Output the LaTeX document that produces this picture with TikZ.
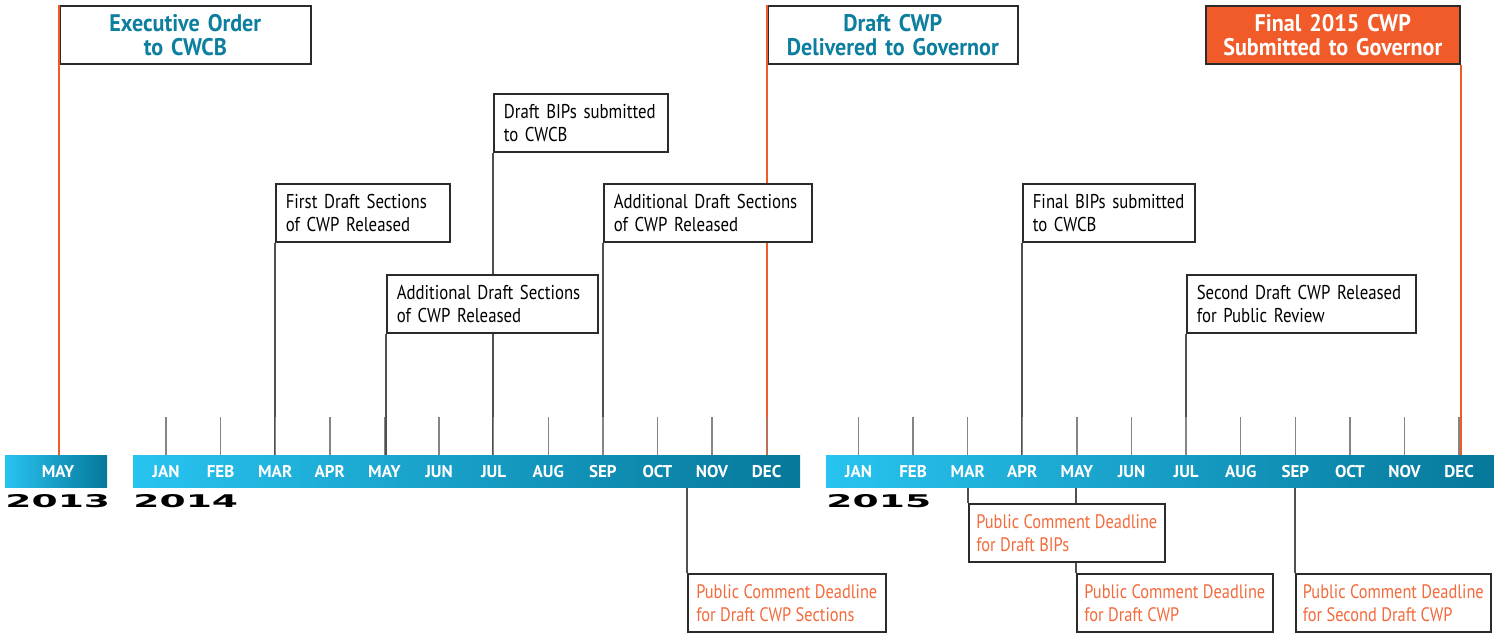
\documentclass[tikz,border=0pt]{standalone}
\usepackage{fontspec}
\setmainfont[FakeStretch=0.84]{PT Sans}
\newfontfamily\titlefont[FakeStretch=0.92]{PT Sans}
\newfontfamily\monthfont{PT Sans}
\newfontfamily\yearfont{DejaVu Sans}
\usetikzlibrary{positioning}
\hyphenpenalty=10000
\exhyphenpenalty=10000
\definecolor{boxline}{HTML}{2B2B2B}
\definecolor{tickgray}{HTML}{858585}
\definecolor{eventgray}{HTML}{505050}
\definecolor{titleteal}{HTML}{0C7E9E}
\definecolor{cwporange}{HTML}{F15A29}
\definecolor{dltext}{HTML}{F26B3D}
\definecolor{barlight}{HTML}{28C3F0}
\definecolor{barmid}{HTML}{00AAD8}
\definecolor{bardark}{HTML}{06789A}
\pgfdeclarelayer{back}
\pgfsetlayers{back,main}
\tikzset{
  event/.style={draw=boxline, line width=1.6pt, fill=white, anchor=north west,
    align=left, text width=#1, inner xsep=10pt, inner ysep=4pt, minimum height=58pt,
    font=\fontsize{20}{23}\selectfont},
  deadline/.style={draw=boxline, line width=1.6pt, fill=white, anchor=north west,
    align=left, minimum width=#1, inner xsep=5pt, inner ysep=4pt, minimum height=58pt,
    text=dltext, font=\fontsize{19.5}{23}\selectfont},
  milestone/.style={draw=boxline, line width=1.6pt, fill=white, anchor=north west,
    align=center, text width=#1, inner xsep=0pt, minimum height=58pt,
    text=titleteal, font=\fontsize{24}{24}\titlefont\bfseries},
  bar/.style={anchor=north west, minimum height=32pt, inner sep=0pt,
    left color=barlight, middle color=barmid, right color=bardark},
  month/.style={text=white, font=\fontsize{17}{18}\monthfont\bfseries, inner sep=0pt},
  year/.style={anchor=north west, inner sep=0pt, xscale=2.15,
    font=\fontsize{17.5}{18}\yearfont\bfseries},
  tick/.style={draw=tickgray, line width=1.4pt},
  eventline/.style={draw=eventgray, line width=1.4pt},
  keyline/.style={draw=cwporange, line width=1.8pt}
}
\begin{document}
\begin{tikzpicture}[x=1pt,y=-1pt]
\useasboundingbox (0,0) rectangle (1494,634);

% timeline bars
\node[bar, minimum width=102pt] (bar13) at (5,455) {};
\node[bar, minimum width=667pt] (bar14) at (133,455) {};
\node[bar, minimum width=668pt] (bar15) at (826,455) {};

\node[month] (m13-5) at (58,471.5) {MAY};
\foreach \m [count=\i] in {JAN,FEB,MAR,APR,MAY,JUN,JUL,AUG,SEP,OCT,NOV,DEC} {
  \node[month] (m14-\i) at ({133+33+54.6*(\i-1)},471.5) {\m};
  \node[month] (m15-\i) at ({826+32.5+54.6*(\i-1)},471.5) {\m};
  \draw[tick] (m14-\i |- bar14.north) -- ++(0,-38);
  \draw[tick] (m15-\i |- bar15.north) -- ++(0,-38);
}

\node[year] (y13) at (5,494) {2013};
\node[year] (y14) at (133,494) {2014};
\node[year] (y15) at (826,494) {2015};

% milestones
\node[milestone=251pt] (exec) at (59,5) {Executive Order\\to CWCB};
\node[milestone=250pt] (draftcwp) at (767,5) {Draft CWP\\Delivered to Governor};
\node[milestone=254pt, fill=cwporange, text=white] (final) at (1205,5) {Final 2015 CWP\\Submitted to Governor};

% events above
\node[event=154pt] (draftbips) at (493,93) {Draft BIPs submitted\\to CWCB};
\node[event=154pt] (firstdraft) at (275,183) {First Draft Sections\\of CWP Released};
\node[event=188pt] (addsec2) at (603,183) {Additional Draft Sections\\of CWP Released};
\node[event=191pt] (addsec1) at (386,274) {Additional Draft Sections\\of CWP Released};
\node[event=152pt] (finalbips) at (1022,183) {Final BIPs submitted\\to CWCB};
\node[event=209pt] (second) at (1186,274) {Second Draft CWP Released\\for Public Review};

% deadlines below
\node[deadline=196pt] (dlbips) at (968,503) {Public Comment Deadline\\for Draft BIPs};
\node[deadline=198pt] (dlsect) at (687,573) {Public Comment Deadline\\for Draft CWP Sections};
\node[deadline=196pt] (dlcwp) at (1076,573) {Public Comment Deadline\\for Draft CWP};
\node[deadline=195pt] (dlsecond) at (1295,573) {Public Comment Deadline\\for Second Draft CWP};

\begin{pgfonlayer}{back}
  \draw[eventline] (draftbips.south west) -- (draftbips.south west |- bar14.north);
  \draw[eventline] (firstdraft.south west) -- (firstdraft.south west |- bar14.north);
  \draw[eventline] (addsec2.south west) -- (addsec2.south west |- bar14.north);
  \draw[eventline] (addsec1.south west) -- (addsec1.south west |- bar14.north);
  \draw[eventline] (finalbips.south west) -- (finalbips.south west |- bar15.north);
  \draw[eventline] (second.south west) -- (second.south west |- bar15.north);
  \draw[eventline] (dlbips.north west |- bar15.south) -- (dlbips.north west);
  \draw[eventline] (dlsect.north west |- bar14.south) -- (dlsect.north west);
  \draw[eventline] (dlcwp.north west |- bar15.south) -- (dlcwp.north west);
  \draw[eventline] (dlsecond.north west |- bar15.south) -- (dlsecond.north west);
  \draw[keyline] (draftcwp.south west) -- (draftcwp.south west |- bar14.north);
\end{pgfonlayer}

\draw[keyline] (exec.north west) -- (exec.north west |- bar13.north);
\draw[keyline] (draftcwp.north west) -- (draftcwp.south west);
\draw[keyline] (final.south east) -- (final.south east |- bar15.north);
\end{tikzpicture}
\end{document}
